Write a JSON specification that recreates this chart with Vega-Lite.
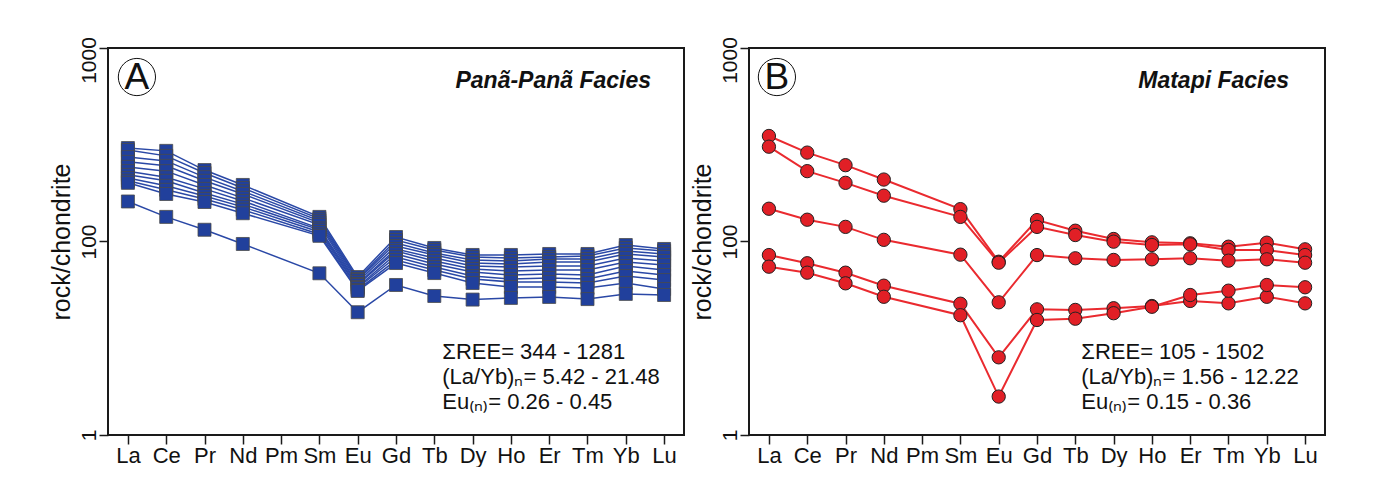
{
  "$schema": "https://vega.github.io/schema/vega-lite/v6.json",
  "background": "white",
  "padding": {"left": 48, "top": 35, "right": 0, "bottom": 0},
  "autosize": {"type": "pad"},
  "spacing": 4,
  "config": {
    "font": "Liberation Sans",
    "view": {"stroke": "#1a1a1a", "strokeWidth": 2},
    "axis": {
      "domain": false,
      "grid": false,
      "tickColor": "#1a1a1a",
      "tickWidth": 1.5,
      "tickSize": 9,
      "labelColor": "#111111",
      "labelFont": "Liberation Sans",
      "labelFontSize": 22,
      "titleFont": "Liberation Sans",
      "titleFontWeight": "normal",
      "titleColor": "#111111",
      "titleFontSize": 25
    }
  },
  "datasets": {
    "panana": [
      {"sample": "PP1", "La": 304, "Ce": 294, "Pr": 234, "Nd": 196, "Sm": 134, "Eu": 65.5, "Gd": 105.5, "Tb": 92.6, "Dy": 85.2, "Ho": 85.2, "Er": 86.2, "Tm": 86.2, "Yb": 95.9, "Lu": 91.5},
      {"sample": "PP2", "La": 297, "Ce": 277, "Pr": 226, "Nd": 189, "Sm": 131, "Eu": 64.0, "Gd": 101.8, "Tb": 90.4, "Dy": 83.2, "Ho": 82.2, "Er": 83.2, "Tm": 84.2, "Yb": 92.6, "Lu": 89.3},
      {"sample": "PP3", "La": 273, "Ce": 261, "Pr": 215, "Nd": 182, "Sm": 128, "Eu": 63.2, "Gd": 98.2, "Tb": 87.2, "Dy": 80.2, "Ho": 79.3, "Er": 81.2, "Tm": 81.2, "Yb": 89.3, "Lu": 86.2},
      {"sample": "PP4", "La": 258, "Ce": 246, "Pr": 206, "Nd": 176, "Sm": 125, "Eu": 61.8, "Gd": 94.8, "Tb": 85.2, "Dy": 77.4, "Ho": 76.5, "Er": 78.4, "Tm": 78.4, "Yb": 86.2, "Lu": 83.2},
      {"sample": "PP5", "La": 243, "Ce": 231, "Pr": 196, "Nd": 168, "Sm": 122, "Eu": 60.3, "Gd": 91.5, "Tb": 82.2, "Dy": 74.7, "Ho": 73.8, "Er": 74.7, "Tm": 74.7, "Yb": 82.2, "Lu": 79.3},
      {"sample": "PP6", "La": 231, "Ce": 215, "Pr": 187, "Nd": 162, "Sm": 117, "Eu": 59.6, "Gd": 89.3, "Tb": 79.3, "Dy": 72.1, "Ho": 70.4, "Er": 71.2, "Tm": 71.2, "Yb": 78.4, "Lu": 75.6},
      {"sample": "PP7", "La": 221, "Ce": 206, "Pr": 178, "Nd": 156, "Sm": 115, "Eu": 58.2, "Gd": 86.2, "Tb": 76.5, "Dy": 69.6, "Ho": 67.1, "Er": 67.9, "Tm": 67.1, "Yb": 74.7, "Lu": 71.2},
      {"sample": "PP8", "La": 213, "Ce": 194, "Pr": 172, "Nd": 151, "Sm": 112, "Eu": 57.5, "Gd": 83.2, "Tb": 73.8, "Dy": 66.3, "Ho": 64.0, "Er": 64.8, "Tm": 64.0, "Yb": 70.4, "Lu": 67.1},
      {"sample": "PP9", "La": 206, "Ce": 185, "Pr": 166, "Nd": 146, "Sm": 109, "Eu": 56.2, "Gd": 80.2, "Tb": 71.2, "Dy": 64.0, "Ho": 61.8, "Er": 61.8, "Tm": 61.0, "Yb": 66.3, "Lu": 63.2},
      {"sample": "PP10", "La": 201, "Ce": 176, "Pr": 160, "Nd": 140, "Sm": 107, "Eu": 55.5, "Gd": 77.4, "Tb": 68.7, "Dy": 61.0, "Ho": 58.2, "Er": 58.2, "Tm": 57.5, "Yb": 61.0, "Lu": 56.8},
      {"sample": "PP11", "La": 161, "Ce": 134, "Pr": 115, "Nd": 97.1, "Sm": 68.5, "Eu": 43.1, "Gd": 59.6, "Tb": 52.3, "Dy": 50.1, "Ho": 51.1, "Er": 51.7, "Tm": 50.4, "Yb": 53.6, "Lu": 52.9}
    ],
    "matapi": [
      {"sample": "MP1", "La": 351, "Ce": 288, "Pr": 248, "Nd": 209, "Sm": 147, "Eu": 78.6, "Gd": 129, "Tb": 113.7, "Dy": 103, "Ho": 99, "Er": 97.9, "Tm": 94, "Yb": 98.6, "Lu": 91.1},
      {"sample": "MP2", "La": 309, "Ce": 231, "Pr": 201, "Nd": 172.5, "Sm": 134, "Eu": 77.7, "Gd": 119, "Tb": 108, "Dy": 99.8, "Ho": 95.9, "Er": 96.7, "Tm": 90.4, "Yb": 90.4, "Lu": 85.1},
      {"sample": "MP3", "La": 147.7, "Ce": 129.6, "Pr": 119, "Nd": 102, "Sm": 85.5, "Eu": 48.5, "Gd": 85.1, "Tb": 81.9, "Dy": 80.3, "Ho": 80.9, "Er": 81.9, "Tm": 79.6, "Yb": 80.9, "Lu": 77.7},
      {"sample": "MP4", "La": 85.1, "Ce": 77.2, "Pr": 69, "Nd": 59.1, "Sm": 47.7, "Eu": 25.2, "Gd": 44.6, "Tb": 44.3, "Dy": 45.2, "Ho": 46.4, "Er": 49.3, "Tm": 47.9, "Yb": 51.8, "Lu": 47.9},
      {"sample": "MP5", "La": 74.1, "Ce": 69, "Pr": 60.8, "Nd": 51.8, "Sm": 41.6, "Eu": 15.8, "Gd": 39.3, "Tb": 39.9, "Dy": 42.6, "Ho": 46.0, "Er": 52.9, "Tm": 55.7, "Yb": 59.6, "Lu": 58.0}
    ]
  },
  "hconcat": [
    {
      "width": 576,
      "height": 387,
      "layer": [
        {
          "data": {"name": "panana"},
          "transform": [{"fold": ["La", "Ce", "Pr", "Nd", "Sm", "Eu", "Gd", "Tb", "Dy", "Ho", "Er", "Tm", "Yb", "Lu"], "as": ["element", "value"]}],
          "mark": {"type": "line", "color": "#2a48a6", "strokeWidth": 1.5},
          "encoding": {
            "x": {"field": "element", "type": "ordinal", "sort": ["La", "Ce", "Pr", "Nd", "Pm", "Sm", "Eu", "Gd", "Tb", "Dy", "Ho", "Er", "Tm", "Yb", "Lu"],
              "scale": {"type": "point", "domain": ["La", "Ce", "Pr", "Nd", "Pm", "Sm", "Eu", "Gd", "Tb", "Dy", "Ho", "Er", "Tm", "Yb", "Lu"], "padding": 0.52},
              "axis": {"title": null, "labelAngle": 0, "labelPadding": 1}},
            "y": {"field": "value", "type": "quantitative",
              "scale": {"type": "log", "domain": [10, 1000], "nice": false},
              "axis": {"title": "rock/chondrite", "values": [10, 100, 1000], "format": "d",
                "labelExpr": "datum.value === 10 ? '1' : datum.label",
                "labelAngle": -90, "labelAlign": "center", "labelBaseline": "bottom", "labelPadding": 0, "labelFontSize": 21,
                "labelOffset": {"condition": {"test": "datum.value === 1000", "value": 12}, "value": 0},
                "titlePadding": 4}},
            "detail": {"field": "sample"}
          }
        },
        {
          "data": {"name": "panana"},
          "transform": [{"fold": ["La", "Ce", "Pr", "Nd", "Sm", "Eu", "Gd", "Tb", "Dy", "Ho", "Er", "Tm", "Yb", "Lu"], "as": ["element", "value"]}],
          "mark": {"type": "point", "shape": "square", "size": 169, "filled": true, "fill": "#21409c", "stroke": "#4a4a4a", "strokeWidth": 0.8, "opacity": 1},
          "encoding": {
            "x": {"field": "element", "type": "ordinal"},
            "y": {"field": "value", "type": "quantitative"},
            "detail": {"field": "sample"}
          }
        },
        {
          "data": {"values": [{}]},
          "mark": {"type": "point", "shape": "circle", "size": 1385, "filled": false, "stroke": "#111111", "strokeWidth": 1, "xOffset": 9, "opacity": 1},
          "encoding": {"x": {"datum": "La", "type": "ordinal"}, "y": {"datum": 708, "type": "quantitative"}}
        },
        {
          "data": {"values": [{}]},
          "mark": {"type": "text", "font": "Liberation Sans", "fontSize": 37, "align": "center", "baseline": "alphabetic", "dx": 9, "color": "#111111"},
          "encoding": {"x": {"datum": "La", "type": "ordinal"}, "y": {"datum": 614, "type": "quantitative"}, "text": {"value": "A"}}
        },
        {
          "data": {"values": [{}]},
          "mark": {"type": "text", "font": "Liberation Sans", "fontSize": 23, "fontWeight": "bold", "fontStyle": "italic", "align": "right", "baseline": "alphabetic", "dx": -13, "color": "#111111"},
          "encoding": {"x": {"datum": "Lu", "type": "ordinal"}, "y": {"datum": 621, "type": "quantitative"}, "text": {"value": "Panã-Panã Facies"}}
        },
        {
          "data": {"values": [{}]},
          "mark": {"type": "text", "font": "Liberation Sans", "fontSize": 22, "align": "left", "baseline": "middle", "lineHeight": 25, "dx": 8, "color": "#111111"},
          "encoding": {"x": {"datum": "Tb", "type": "ordinal"}, "y": {"datum": 26.8, "type": "quantitative"},
            "text": {"value": ["ΣREE= 344 - 1281", "(La/Yb)ₙ= 5.42 - 21.48", "Eu₍ₙ₎= 0.26 - 0.45"]}}
        }
      ]
    },
    {
      "width": 576,
      "height": 387,
      "layer": [
        {
          "data": {"name": "matapi"},
          "transform": [{"fold": ["La", "Ce", "Pr", "Nd", "Sm", "Eu", "Gd", "Tb", "Dy", "Ho", "Er", "Tm", "Yb", "Lu"], "as": ["element", "value"]}],
          "mark": {"type": "line", "color": "#ea2a2f", "strokeWidth": 2},
          "encoding": {
            "x": {"field": "element", "type": "ordinal", "sort": ["La", "Ce", "Pr", "Nd", "Pm", "Sm", "Eu", "Gd", "Tb", "Dy", "Ho", "Er", "Tm", "Yb", "Lu"],
              "scale": {"type": "point", "domain": ["La", "Ce", "Pr", "Nd", "Pm", "Sm", "Eu", "Gd", "Tb", "Dy", "Ho", "Er", "Tm", "Yb", "Lu"], "padding": 0.52},
              "axis": {"title": null, "labelAngle": 0, "labelPadding": 1}},
            "y": {"field": "value", "type": "quantitative",
              "scale": {"type": "log", "domain": [10, 1000], "nice": false},
              "axis": {"title": "rock/chondrite", "values": [10, 100, 1000], "format": "d",
                "labelExpr": "datum.value === 10 ? '1' : datum.label",
                "labelAngle": -90, "labelAlign": "center", "labelBaseline": "bottom", "labelPadding": 0, "labelFontSize": 21,
                "labelOffset": {"condition": {"test": "datum.value === 1000", "value": 12}, "value": 0},
                "titlePadding": 4}},
            "detail": {"field": "sample"}
          }
        },
        {
          "data": {"name": "matapi"},
          "transform": [{"fold": ["La", "Ce", "Pr", "Nd", "Sm", "Eu", "Gd", "Tb", "Dy", "Ho", "Er", "Tm", "Yb", "Lu"], "as": ["element", "value"]}],
          "mark": {"type": "point", "shape": "circle", "size": 177, "filled": true, "fill": "#e11f26", "stroke": "#222222", "strokeWidth": 1, "opacity": 1},
          "encoding": {
            "x": {"field": "element", "type": "ordinal"},
            "y": {"field": "value", "type": "quantitative"},
            "detail": {"field": "sample"}
          }
        },
        {
          "data": {"values": [{}]},
          "mark": {"type": "point", "shape": "circle", "size": 1385, "filled": false, "stroke": "#111111", "strokeWidth": 1, "xOffset": 8, "opacity": 1},
          "encoding": {"x": {"datum": "La", "type": "ordinal"}, "y": {"datum": 708, "type": "quantitative"}}
        },
        {
          "data": {"values": [{}]},
          "mark": {"type": "text", "font": "Liberation Sans", "fontSize": 37, "align": "center", "baseline": "alphabetic", "dx": 8, "color": "#111111"},
          "encoding": {"x": {"datum": "La", "type": "ordinal"}, "y": {"datum": 614, "type": "quantitative"}, "text": {"value": "B"}}
        },
        {
          "data": {"values": [{}]},
          "mark": {"type": "text", "font": "Liberation Sans", "fontSize": 23, "fontWeight": "bold", "fontStyle": "italic", "align": "right", "baseline": "alphabetic", "dx": -16, "color": "#111111"},
          "encoding": {"x": {"datum": "Lu", "type": "ordinal"}, "y": {"datum": 621, "type": "quantitative"}, "text": {"value": "Matapi Facies"}}
        },
        {
          "data": {"values": [{}]},
          "mark": {"type": "text", "font": "Liberation Sans", "fontSize": 22, "align": "left", "baseline": "middle", "lineHeight": 25, "dx": 6, "color": "#111111"},
          "encoding": {"x": {"datum": "Tb", "type": "ordinal"}, "y": {"datum": 26.8, "type": "quantitative"},
            "text": {"value": ["ΣREE= 105 - 1502", "(La/Yb)ₙ= 1.56 - 12.22", "Eu₍ₙ₎= 0.15 - 0.36"]}}
        }
      ]
    }
  ]
}
